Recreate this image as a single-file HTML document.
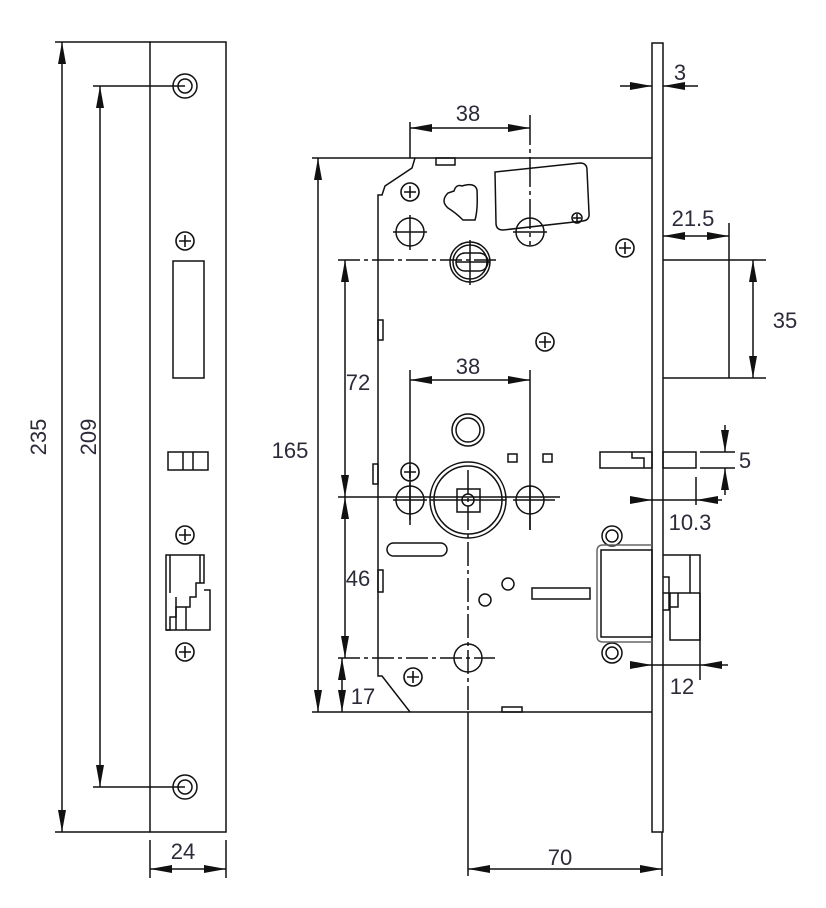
<!DOCTYPE html>
<html><head><meta charset="utf-8"><style>
html,body{margin:0;padding:0;background:#fff}
svg{display:block}
text{font-family:"Liberation Sans",sans-serif;font-size:22px;fill:#2b2b3a}
</style></head><body>
<svg width="826" height="908" viewBox="0 0 826 908" xmlns="http://www.w3.org/2000/svg">
<defs>
<marker id="a" viewBox="0 0 22 8" refX="22" refY="4" markerWidth="22" markerHeight="8" orient="auto-start-reverse" markerUnits="userSpaceOnUse"><path d="M0,0L22,4L0,8z" fill="#111"/></marker>
<symbol id="cx" viewBox="-10 -10 20 20" overflow="visible"><circle r="9" fill="none" stroke="#111" stroke-width="1.6"/><path d="M-6,0H6M0,-6V6" stroke="#111" stroke-width="1.6"/></symbol>
</defs>
<g fill="none" stroke="#111" stroke-width="1.5">
<!-- LEFT FACEPLATE -->
<rect x="150" y="42" width="76" height="790"/>
<line x1="55" y1="42" x2="150" y2="42"/><line x1="55" y1="832" x2="150" y2="832"/>
<line x1="62" y1="42" x2="62" y2="832" marker-start="url(#a)" marker-end="url(#a)"/>
<line x1="93" y1="86" x2="185" y2="86"/><line x1="93" y1="787" x2="185" y2="787"/>
<line x1="100" y1="86" x2="100" y2="787" marker-start="url(#a)" marker-end="url(#a)"/>
<circle cx="185" cy="86" r="12"/><circle cx="185" cy="86" r="7"/>
<circle cx="185" cy="787" r="12"/><circle cx="185" cy="787" r="7"/>
<rect x="173" y="261" width="31" height="117"/>
<rect x="168" y="452" width="40" height="18"/><line x1="183" y1="452" x2="183" y2="470"/><line x1="193" y1="452" x2="193" y2="470"/>
<path d="M166,555H204V583H196V597H190V607H176V617H170V630H166Z"/>
<path d="M170,555V593M200,555V583M176,597V630M186,607V630M204,590H210V630H166" />
<line x1="150" y1="840" x2="150" y2="878"/><line x1="226" y1="840" x2="226" y2="878"/>
<line x1="150" y1="869" x2="226" y2="869" marker-start="url(#a)" marker-end="url(#a)"/>

<!-- RIGHT VIEW: faceplate -->
<rect x="652" y="43" width="11" height="789"/>
<line x1="620" y1="86" x2="652" y2="86" marker-end="url(#a)"/>
<line x1="698" y1="86" x2="663" y2="86" marker-end="url(#a)"/>
<!-- body outline -->
<path d="M652,158H415L412,168L385,186L382,195H378V676H382L410,712H652"/>
<line x1="312" y1="158" x2="415" y2="158"/>
<line x1="312" y1="712" x2="410" y2="712"/>
<line x1="318" y1="158" x2="318" y2="712" marker-start="url(#a)" marker-end="url(#a)"/>
<line x1="338" y1="260" x2="500" y2="260" stroke-dasharray="22,4,4,4"/>
<line x1="338" y1="497" x2="560" y2="497"/>
<line x1="338" y1="658" x2="495" y2="658" stroke-dasharray="22,4,4,4"/>
<line x1="345" y1="260" x2="345" y2="497" marker-start="url(#a)" marker-end="url(#a)"/>
<line x1="345" y1="497" x2="345" y2="658" marker-start="url(#a)" marker-end="url(#a)"/>
<line x1="342" y1="658" x2="342" y2="712" marker-start="url(#a)" marker-end="url(#a)"/>
<!-- 38 top -->
<line x1="410" y1="122" x2="410" y2="158"/>
<line x1="530" y1="115" x2="530" y2="245" stroke-dasharray="30,4,4,4"/>
<line x1="410" y1="128" x2="530" y2="128" marker-start="url(#a)" marker-end="url(#a)"/>
<!-- 38 mid -->
<line x1="410" y1="370" x2="410" y2="520"/>
<line x1="530" y1="370" x2="530" y2="530"/>
<line x1="410" y1="380" x2="530" y2="380" marker-start="url(#a)" marker-end="url(#a)"/>
<!-- center vertical -->
<line x1="468" y1="470" x2="468" y2="712" stroke-dasharray="24,4,4,4"/>
<line x1="468" y1="712" x2="468" y2="876"/>
<line x1="662" y1="832" x2="662" y2="876"/>
<line x1="468" y1="869" x2="662" y2="869" marker-start="url(#a)" marker-end="url(#a)"/>
<!-- top holes -->
<circle cx="410" cy="232" r="14"/><path d="M393,232H427M410,215V250"/>
<circle cx="530" cy="232" r="14"/><path d="M513,232H547"/>
<circle cx="470" cy="262" r="20"/><circle cx="470" cy="262" r="17"/>
<rect x="456" y="253" width="32" height="18" rx="9"/><path d="M456,262H490M470,240V285"/>
<path d="M448,193q-8,8 0,15q8,5 15,12h12q3-10 2-30q-2-8-15-4q-6,-2 -8,5z"/>
<path d="M495,172L580,163Q587,163 587,170L589,213Q590,220 583,221L503,230Q496,230 496,223Z"/>
<circle cx="577" cy="218" r="5"/><path d="M573,218H581M577,214V222"/>
<rect x="436" y="158" width="19" height="7"/>
<rect x="502" y="707" width="20" height="5"/>
<rect x="378" y="320" width="5" height="20"/><rect x="373" y="464" width="5" height="20"/><rect x="378" y="570" width="5" height="22"/>
<!-- middle -->
<circle cx="468" cy="430" r="16"/><circle cx="468" cy="430" r="12"/>
<circle cx="410" cy="500" r="14"/><path d="M393,500H427M410,483V525"/>
<circle cx="530" cy="500" r="14"/><path d="M513,500H555M530,485V530"/>
<circle cx="468" cy="500" r="38"/><circle cx="468" cy="500" r="34"/>
<rect x="457" y="489" width="23" height="23"/><circle cx="468" cy="500" r="6"/><path d="M430,500H506"/>
<rect x="508" y="454" width="9" height="8"/><rect x="543" y="454" width="9" height="8"/>
<rect x="387" y="543" width="60" height="13" rx="6.5"/>
<circle cx="508" cy="584" r="6"/><circle cx="485" cy="600" r="6"/>
<rect x="532" y="588" width="58" height="11"/>
<circle cx="468" cy="658" r="14"/>
<!-- deadbolt -->
<path d="M663,260H766M663,378H766M729,223V378"/>
<line x1="663" y1="236" x2="729" y2="236" marker-start="url(#a)" marker-end="url(#a)"/>
<line x1="753" y1="260" x2="753" y2="378" marker-start="url(#a)" marker-end="url(#a)"/>
<!-- small latch -->
<path d="M600,452H652V468H600Z M632,452V458H644V468"/>
<rect x="663" y="452" width="33" height="16"/>
<path d="M700,452H735M700,468H735"/>
<line x1="725" y1="425" x2="725" y2="452" marker-end="url(#a)"/>
<line x1="725" y1="495" x2="725" y2="468" marker-end="url(#a)"/>
<line x1="696" y1="477" x2="696" y2="505"/>
<line x1="630" y1="500" x2="652" y2="500" marker-end="url(#a)"/>
<line x1="722" y1="500" x2="696" y2="500" marker-end="url(#a)"/>
<line x1="652" y1="500" x2="696" y2="500"/>
<!-- deadlatch -->
<circle cx="612" cy="536" r="10"/><circle cx="612" cy="536" r="6"/>
<circle cx="612" cy="653" r="10"/><circle cx="612" cy="653" r="6"/>
<path d="M652,545H603Q597,545 597,551V636Q597,642 603,642H652" stroke="#666"/>
<rect x="601" y="550" width="51" height="87"/>
<path d="M663,555H700V593H663M690,555V593M663,577H669V610H663M669,593H678V607H669M670,593V640H700V593"/>
<line x1="700" y1="593" x2="700" y2="680"/>
<line x1="630" y1="665" x2="652" y2="665" marker-end="url(#a)"/>
<line x1="728" y1="665" x2="700" y2="665" marker-end="url(#a)"/>
<line x1="652" y1="665" x2="700" y2="665"/>
</g>
<use href="#cx" x="400" y="182" width="20" height="20"/>
<use href="#cx" x="615" y="238" width="20" height="20"/>
<use href="#cx" x="535" y="332" width="20" height="20"/>
<use href="#cx" x="400" y="462" width="20" height="20"/>
<use href="#cx" x="403" y="667" width="20" height="20"/>
<use href="#cx" x="175" y="231" width="20" height="20"/>
<use href="#cx" x="175" y="525" width="20" height="20"/>
<use href="#cx" x="175" y="642" width="20" height="20"/>
<text x="38" y="437" text-anchor="middle" transform="rotate(-90 38 437)" dy="8">235</text>
<text x="88" y="437" text-anchor="middle" transform="rotate(-90 88 437)" dy="8">209</text>
<text x="183" y="859" text-anchor="middle">24</text>
<text x="290" y="458" text-anchor="middle">165</text>
<text x="358" y="390" text-anchor="middle">72</text>
<text x="358" y="586" text-anchor="middle">46</text>
<text x="363" y="704" text-anchor="middle">17</text>
<text x="468" y="121" text-anchor="middle">38</text>
<text x="468" y="374" text-anchor="middle">38</text>
<text x="680" y="80" text-anchor="middle">3</text>
<text x="693" y="226" text-anchor="middle">21.5</text>
<text x="785" y="328" text-anchor="middle">35</text>
<text x="745" y="468" text-anchor="middle">5</text>
<text x="690" y="530" text-anchor="middle">10.3</text>
<text x="682" y="694" text-anchor="middle">12</text>
<text x="560" y="865" text-anchor="middle">70</text>
</svg>
</body></html>
